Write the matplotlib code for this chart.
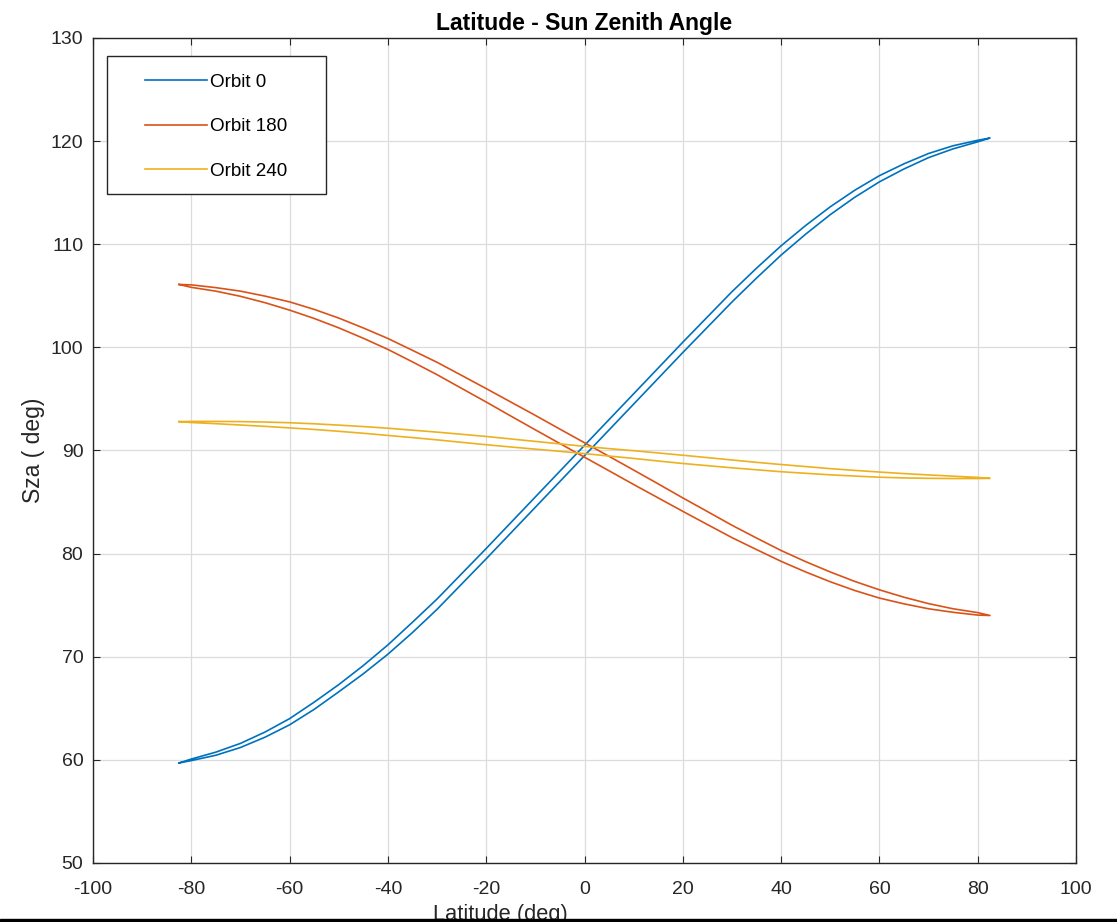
import numpy as np
import matplotlib.pyplot as plt
from matplotlib.patches import Rectangle

plt.rcParams['font.family'] = ['Liberation Sans', 'DejaVu Sans']
plt.rcParams['axes.unicode_minus'] = False

# latitude samples (deg)
lat = [-82.5] + list(range(-80, 81, 5)) + [82.5]

# Orbit 0: the two branches of the loop
sza0_a = [59.7, 60.08, 60.75, 61.6, 62.7, 64.0, 65.6, 67.3, 69.15, 71.15, 73.35, 75.6,
          78.05, 80.5, 83.0, 85.5, 88.0, 90.5, 93.0, 95.5, 98.0, 100.5, 102.95, 105.4,
          107.68, 109.85, 111.82, 113.63, 115.24, 116.65, 117.8, 118.8, 119.55, 120.08, 120.3]
sza0_b = [59.7, 59.93, 60.45, 61.2, 62.2, 63.4, 64.9, 66.6, 68.35, 70.25, 72.35, 74.6,
          77.05, 79.5, 82.0, 84.5, 87.0, 89.5, 92.0, 94.5, 97.0, 99.5, 101.95, 104.4,
          106.72, 108.95, 110.98, 112.87, 114.56, 116.05, 117.3, 118.4, 119.25, 119.93, 120.3]

# Orbit 180
sza180_a = [106.1, 106.06, 105.79, 105.45, 104.97, 104.41, 103.68, 102.84, 101.88, 100.86,
            99.71, 98.55, 97.28, 96.0, 94.7, 93.4, 92.07, 90.75, 89.43, 88.1, 86.76, 85.4,
            84.08, 82.75, 81.51, 80.3, 79.22, 78.22, 77.3, 76.49, 75.77, 75.15, 74.65, 74.28, 74.0]
sza180_b = [106.1, 105.82, 105.45, 104.95, 104.33, 103.61, 102.8, 101.89, 100.88, 99.8,
            98.59, 97.35, 96.02, 94.7, 93.34, 92.0, 90.67, 89.35, 88.03, 86.7, 85.4, 84.1,
            82.82, 81.55, 80.39, 79.25, 78.22, 77.27, 76.42, 75.69, 75.13, 74.65, 74.31, 74.04, 74.0]

# Orbit 240
sza240_a = [92.8, 92.82, 92.82, 92.8, 92.76, 92.69, 92.59, 92.46, 92.32, 92.16, 91.97, 91.78,
            91.57, 91.36, 91.12, 90.88, 90.64, 90.4, 90.18, 89.98, 89.76, 89.54, 89.31, 89.08,
            88.85, 88.64, 88.44, 88.24, 88.07, 87.91, 87.76, 87.63, 87.51, 87.39, 87.3]
sza240_b = [92.8, 92.71, 92.6, 92.47, 92.34, 92.19, 92.04, 91.86, 91.67, 91.46, 91.25, 91.03,
            90.79, 90.56, 90.34, 90.13, 89.92, 89.7, 89.46, 89.23, 88.98, 88.74, 88.53, 88.32,
            88.13, 87.94, 87.79, 87.64, 87.52, 87.41, 87.34, 87.3, 87.28, 87.28, 87.3]

orbits = ["Orbit 0", "Orbit 180", "Orbit 240"]
colors = ["#0072BD", "#D95319", "#EDB120"]
branches = [(sza0_a, sza0_b), (sza180_a, sza180_b), (sza240_a, sza240_b)]

fig = plt.figure(figsize=(11.17, 9.22), dpi=100)
ax = fig.add_axes([0.0833, 0.0640, 0.8800, 0.8948])

for name, c, (a, b) in zip(orbits, colors, branches):
    x = np.concatenate([lat, lat[::-1]])
    y = np.concatenate([a, b[::-1]])
    ax.plot(x, y, color=c, lw=1.2, label=name)

ax.set_xlim(-100, 100)
ax.set_ylim(50, 130)
ax.set_xticks(np.arange(-100, 101, 20))
ax.set_yticks(np.arange(50, 131, 10))
ax.grid(True, color="#dcdcdc", lw=0.9)
ax.set_axisbelow(True)
ax.tick_params(direction="in", top=True, right=True, length=5,
               labelsize=14, colors="#262626")
ax.tick_params(axis="x", pad=13)
ax.tick_params(axis="y", pad=7)
for s in ax.spines.values():
    s.set_color("#262626")
    s.set_linewidth(1.0)

ax.set_title("Latitude - Sun Zenith Angle", fontsize=16.5, fontweight="bold", pad=6)
ax.set_ylabel("Sza ( deg)", fontsize=16.5, color="#262626", labelpad=4)
fig.text(500 / 1117, 1 - 904 / 922, "Latitude (deg)", fontsize=15.75,
         color="#262626", ha="center", va="top")

# legend: box drawn separately so its padding can match the original
ax.add_patch(Rectangle((0.0142, 0.8109), 0.2228, 0.1673, transform=ax.transAxes,
                       facecolor="white", edgecolor="#262626", lw=1.0, zorder=4))
leg = ax.legend(loc="upper left", bbox_to_anchor=(0.0529, 0.9565), fontsize=13.6,
                handlelength=3.3, labelspacing=1.43, borderpad=0,
                handletextpad=0.16, borderaxespad=0, frameon=False)
leg.set_zorder(5)

fig.add_artist(Rectangle((0, 0), 1, 3.5 / 922, transform=fig.transFigure,
                         color="black", zorder=10))

fig.savefig("out.png", dpi=100)
